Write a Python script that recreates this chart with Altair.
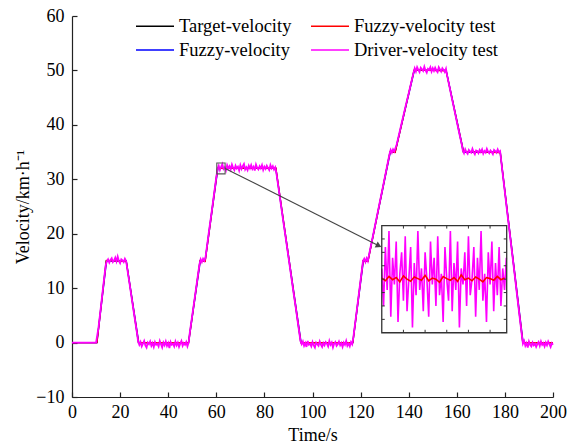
import math
import altair as alt
import pandas as pd

W, H = 481, 381
FONT = "Liberation Serif"
AXIS_COLOR = "#222222"

# ---------------- data ----------------
x_ticks = [0, 20, 40, 60, 80, 100, 120, 140, 160, 180, 200]
y_ticks = [-10, 0, 10, 20, 30, 40, 50, 60]
x_dom = [0, 200]
y_dom = [-10, 60]

target_t = [0, 10.3, 14.2, 22.5, 27.6, 48.4, 53.2, 55.3, 60.5, 84.7, 95.1, 116.7,
            121.0, 123.0, 132.2, 134.3, 142.2, 155.5, 162.7, 178.0, 187.4, 200]
target_v = [0, 0, 15, 15, 0, 0, 15, 15, 32, 32, 0, 0,
            15, 15, 35, 35, 50, 50, 35, 35, 0, 0]

fuzzy_t = [0, 10.4, 14.4, 22.6, 27.8, 48.5, 53.4, 55.4, 60.7, 84.8, 95.3, 116.8,
           121.2, 123.1, 132.4, 134.4, 142.4, 155.6, 162.9, 178.1, 187.6, 200]
fuzzy_v = [0, 0, 15, 15, 0, 0, 15, 15, 32, 32, 0, 0,
           15, 15, 35, 35, 50, 50, 35, 35, 0, 0]

test_t = [0, 10.4, 14.3, 22.6, 27.7, 48.5, 53.3, 55.4, 60.6, 84.8, 95.2, 116.8,
          121.1, 123.1, 132.3, 134.4, 142.3, 155.6, 162.8, 178.1, 187.5, 200]
test_v = [0, 0, 15.1, 14.9, 0, 0, 15.1, 14.9, 32.0, 32.1, 0, 0,
          15.1, 14.9, 35.1, 34.9, 50.1, 49.9, 35.1, 34.9, 0, 0]

# driver-velocity test: recorded in segments (start time, sample step, values)
driver_segments = [
    (0, 1, [0, 0, 0, 0, 0, 0, 0, 0, 0, 0, 0]),
    (11, 1, [2.7, 6.5, 10.4, 14.2]),
    (14.5, 0.5, [14.9, 15.3, 14.7, 15.2, 15.5, 14.8, 15.1, 15.6, 14.9, 15.8, 15.0, 14.6, 15.3, 15.1,
                 14.8, 15.4, 15.0]),
    (23, 1, [13.5, 10.6, 7.6, 4.7, 1.8]),
    (27.5, 0.5, [0.2, -0.4, 0.1, -0.7, -0.2, 0.3, -0.5, -0.9, 0.0, -0.3, 0.2, -0.6, -0.1, -0.8, 0.1,
                 -0.4, -0.2, -0.7, 0.3, -0.3, -0.9, 0.0, -0.5, 0.2, -0.6, -0.1, -1.0, 0.1, -0.4, -0.2,
                 -0.7, 0.2, -0.5, 0.0, -0.8, -0.2, 0.3, -0.6, -0.1, -0.4, 0.1, -0.7, 0.0]),
    (49, 1, [1.9, 5.0, 8.1, 11.3, 14.4]),
    (53.5, 0.5, [15.3, 14.8, 15.4, 15.0, 15.6]),
    (56, 1, [17.3, 20.6, 23.8, 27.1, 30.4]),
    (60.5, 0.5, [31.9, 32.5, 31.7, 32.3, 32.8, 31.9, 32.2, 31.6, 32.6, 32.0, 32.4, 31.8, 32.7, 32.1,
                 31.7, 32.5, 32.0, 32.3, 31.6, 32.6, 31.9, 32.4, 32.8, 31.8, 32.2, 31.7, 32.5, 32.0,
                 32.6, 31.9, 32.3, 31.6, 32.7, 32.1, 31.8, 32.4, 32.0, 32.6, 31.7, 32.3, 31.9, 32.5,
                 32.1, 31.7, 32.6, 32.0, 32.4, 31.8, 32.2]),
    (85, 1, [31.1, 28.0, 24.9, 21.8, 18.8, 15.7, 12.6, 9.5, 6.5, 3.4, 0.3]),
    (95.5, 0.5, [-0.3, 0.2, -0.6, -0.1, -0.8, 0.3, -0.4, -0.2, -0.7, 0.1, -0.5, -0.9, 0.0, -0.3, -0.6,
                 0.2, -0.4, -0.8, -0.1, -0.5, 0.1, -0.2, -0.7, 0.3, -0.4, 0.0, -0.9, -0.2, 0.1, -0.6,
                 -0.3, 0.2, -0.5, -0.1, -0.8, 0.0, -0.4, 0.3, -0.6, -0.2, -0.7, 0.1, -0.3]),
    (117, 1, [1.0, 4.5, 8.0, 11.5, 15.0]),
    (121.5, 0.5, [15.4, 14.8, 15.5, 15.0]),
    (124, 1, [17.2, 19.3, 21.5, 23.7, 25.9, 28.0, 30.2, 32.4, 34.6]),
    (132.5, 0.5, [35.4, 34.9, 35.5, 35.1]),
    (135, 1, [36.4, 38.3, 40.2, 42.1, 44.0, 45.8, 47.7, 49.6]),
    (142.5, 0.5, [50.4, 49.8, 50.6, 50.1, 49.7, 50.5, 50.2, 49.9, 50.7, 50.0, 49.6, 50.3, 50.1, 50.6,
                  49.8, 50.4, 49.9, 50.5, 50.0, 49.7, 50.6, 50.2, 49.8, 50.4, 50.1, 49.7, 50.3]),
    (156, 1, [49.0, 46.9, 44.8, 42.7, 40.6, 38.5, 36.5]),
    (162.5, 0.5, [35.3, 34.8, 35.5, 35.0, 34.7, 35.4, 35.1, 34.9, 35.6, 35.0, 34.6, 35.3, 35.2, 34.8,
                  35.4, 35.0, 35.5, 34.7, 35.2, 34.9, 35.6, 35.1, 34.8, 35.3, 35.0, 34.6, 35.4, 35.2,
                  34.9, 35.5, 35.0, 35.2]),
    (179, 1, [31.3, 27.6, 23.8, 20.1, 16.4, 12.7, 8.9, 5.2, 1.5]),
    (187.5, 0.5, [-0.2, 0.3, -0.6, -0.1, -0.9, 0.2, -0.4, -0.7, 0.0, -0.5, -0.2, -0.8, -0.3, 0.1, -0.6,
                  0.2, -0.4, -0.1, -0.7, 0.0, -0.5, 0.2, -0.3, -0.8, -0.1, -0.4]),
]
driver_t, driver_v = [], []
for t_start, step, vals in driver_segments:
    for i, val in enumerate(vals):
        driver_t.append(round(t_start + i * step, 2))
        driver_v.append(val)

# zoomed window (inset) data
zoom_t = (60.2, 63.66)
zoom_v = (31.0, 33.0)
inset_x_ticks = [60.8, 61.4, 62.0, 62.6, 63.2]
inset_y_ticks = [31.25, 31.5, 31.75, 32.0, 32.25, 32.5, 32.75]

inset_driver_t = [round(60.2 + 0.05 * i, 2) for i in range(70)]
inset_driver_v = [
    32.2, 31.5, 32.6, 31.8, 32.9, 31.3, 32.4, 31.9, 32.7, 31.2,
    32.1, 32.5, 31.6, 32.8, 31.4, 32.0, 32.6, 31.1, 32.3, 31.7,
    32.9, 31.8, 32.2, 31.4, 32.5, 32.0, 31.3, 32.7, 31.9, 32.4,
    31.5, 32.8, 31.7, 32.1, 31.2, 32.6, 32.0, 31.6, 32.9, 31.4,
    32.3, 31.8, 32.7, 31.1, 32.2, 31.9, 32.5, 31.5, 32.8, 31.7,
    32.0, 32.6, 31.3, 32.4, 31.8, 32.9, 31.6, 32.1, 31.2, 32.5,
    31.9, 32.7, 31.4, 32.3, 31.7, 32.6, 31.5, 32.2, 31.8, 32.4,
]
inset_test_t = [round(60.2 + 0.1 * i, 2) for i in range(35)]
inset_test_v = [
    32.02, 31.97, 32.05, 31.99, 32.03, 31.95, 32.06, 32.00, 31.96, 32.04,
    32.01, 31.98, 32.07, 31.97, 32.02, 32.00, 31.94, 32.05, 32.01, 31.98,
    32.03, 31.96, 32.08, 31.99, 32.02, 31.97, 32.04, 32.00, 31.95, 32.03,
    32.01, 31.98, 32.05, 31.99, 32.02,
]

# legend fills column by column: col 1 = first two, col 2 = last two
series_order = ["Target-velocity", "Fuzzy-velocity", "Fuzzy-velocity test", "Driver-velocity test"]
series_colors = ["#000000", "#0000ff", "#ff0000", "#ff00ff"]

# placement of the inset box, in main-axis units
inset_box_t = (128.8, 180.75)
inset_box_v = (1.8, 21.5)
arrow_end_v = 17.5

# ---------------- scales ----------------
xs = alt.Scale(domain=x_dom, nice=False, zero=False)
ys = alt.Scale(domain=y_dom, nice=False, zero=False)
color_scale = alt.Scale(domain=series_order, range=series_colors)

kx = (zoom_t[1] - zoom_t[0]) / (inset_box_t[1] - inset_box_t[0])
ky = (zoom_v[1] - zoom_v[0]) / (inset_box_v[1] - inset_box_v[0])
ix_dom = [zoom_t[0] - (inset_box_t[0] - x_dom[0]) * kx, zoom_t[0] + (x_dom[1] - inset_box_t[0]) * kx]
iy_dom = [zoom_v[0] - (inset_box_v[0] - y_dom[0]) * ky, zoom_v[0] + (y_dom[1] - inset_box_v[0]) * ky]
ixs = alt.Scale(domain=ix_dom, nice=False, zero=False)
iys = alt.Scale(domain=iy_dom, nice=False, zero=False)

legend = alt.Legend(
    title=None, orient="none", legendX=63, legendY=1, columns=2,
    symbolType="stroke", symbolSize=1444, symbolStrokeWidth=1.5,
    labelFont=FONT, labelFontSize=18.5, labelColor="#000", labelOffset=4,
    labelLimit=400, columnPadding=18, rowPadding=5, padding=0, clipHeight=18,
)

x_axis = alt.Axis(values=x_ticks, ticks=False, tickSize=0, domainColor=AXIS_COLOR, domainWidth=1.2,
                  labelFont=FONT, labelFontSize=18, labelColor="#000", labelPadding=6,
                  labelFlush=False, grid=False, title="Time/s", titleFont=FONT, titleFontSize=18,
                  titleFontWeight="normal", titleColor="#000", titlePadding=5, format="d")
y_axis = alt.Axis(values=y_ticks, ticks=False, tickSize=0, domainColor=AXIS_COLOR, domainWidth=1.2,
                  labelFont=FONT, labelFontSize=18, labelColor="#000", labelPadding=8,
                  labelFlush=False, grid=False, title="Velocity/km·h⁻¹", titleFont=FONT,
                  titleFontSize=18, titleFontWeight="normal", titleColor="#000", titlePadding=3,
                  format="d")
x_tick_axis = alt.Axis(orient="top", offset=-H, values=x_ticks, labels=False, domain=False,
                       ticks=True, tickSize=5, tickColor=AXIS_COLOR, tickWidth=1.2, grid=False)
y_tick_axis = alt.Axis(orient="right", offset=-W, values=y_ticks, labels=False, domain=False,
                       ticks=True, tickSize=5, tickColor=AXIS_COLOR, tickWidth=1.2, grid=False)


def series_df(t, v, name):
    return pd.DataFrame({"t": t, "v": v, "series": name})


def line_layer(df, width, x_axis_=None, y_axis_=None):
    xkw = {"axis": x_axis_} if x_axis_ is not None else {"axis": None}
    ykw = {"axis": y_axis_} if y_axis_ is not None else {"axis": None}
    return alt.Chart(df).mark_line(strokeWidth=width).encode(
        x=alt.X("t:Q", scale=xs, **xkw),
        y=alt.Y("v:Q", scale=ys, **ykw),
        color=alt.Color("series:N", scale=color_scale, legend=legend),
        order="t:Q",
    )


df_target = series_df(target_t, target_v, "Target-velocity")
df_fuzzy = series_df(fuzzy_t, fuzzy_v, "Fuzzy-velocity")
df_test = series_df(test_t, test_v, "Fuzzy-velocity test")
df_driver = series_df(driver_t, driver_v, "Driver-velocity test")

target_layer = line_layer(df_target, 1.2, x_axis, y_axis)
fuzzy_layer = line_layer(df_fuzzy, 1.2)
test_layer = line_layer(df_test, 1.2)
driver_layer = line_layer(df_driver, 1.8)

tick_layer = alt.Chart(df_target).mark_point(opacity=0).encode(
    x=alt.X("t:Q", scale=xs, axis=x_tick_axis, title=None),
    y=alt.Y("v:Q", scale=ys, axis=y_tick_axis, title=None),
)

zoom_df = pd.DataFrame({"t0": [zoom_t[0]], "t1": [zoom_t[1]], "v0": [zoom_v[0]], "v1": [zoom_v[1]]})
zoom_rect = alt.Chart(zoom_df).mark_rect(fillOpacity=0, stroke="#555555", strokeWidth=1.1).encode(
    x=alt.X("t0:Q", scale=xs, axis=None), x2="t1",
    y=alt.Y("v0:Q", scale=ys, axis=None), y2="v1",
)

# arrow from zoom window to inset box
sx = W / (x_dom[1] - x_dom[0])
sy = H / (y_dom[1] - y_dom[0])
a_t0, a_v0 = zoom_t[1], (zoom_v[0] + zoom_v[1]) / 2
a_t1, a_v1 = inset_box_t[0], arrow_end_v
dxp = (a_t1 - a_t0) * sx
dyp = (a_v0 - a_v1) * sy
ang = math.degrees(math.atan2(dyp, dxp))
head_size = 45
r = math.sqrt(head_size) / 2
head_t = a_t1 - r * math.cos(math.radians(ang)) / sx
head_v = a_v1 + r * math.sin(math.radians(ang)) / sy

arrow_df = pd.DataFrame({"t0": [a_t0], "v0": [a_v0], "t1": [head_t], "v1": [head_v]})
arrow = alt.Chart(arrow_df).mark_rule(color="#444444", strokeWidth=1.1).encode(
    x=alt.X("t0:Q", scale=xs, axis=None), x2="t1",
    y=alt.Y("v0:Q", scale=ys, axis=None), y2="v1",
)
head = alt.Chart(arrow_df).mark_point(shape="triangle-right", filled=True, size=head_size,
                                      angle=ang, color="#444444", opacity=1).encode(
    x=alt.X("t1:Q", scale=xs, axis=None),
    y=alt.Y("v1:Q", scale=ys, axis=None),
)

main = alt.layer(target_layer, fuzzy_layer, test_layer, driver_layer, tick_layer,
                 zoom_rect, arrow, head).resolve_axis(x="independent", y="independent")

# ---------------- inset ----------------
box_fill = alt.Chart(zoom_df).mark_rect(fill="white").encode(
    x=alt.X("t0:Q", scale=ixs, axis=None), x2="t1",
    y=alt.Y("v0:Q", scale=iys, axis=None), y2="v1",
)
box_line = alt.Chart(zoom_df).mark_rect(fillOpacity=0, stroke="#333333", strokeWidth=1.3).encode(
    x=alt.X("t0:Q", scale=ixs, axis=None), x2="t1",
    y=alt.Y("v0:Q", scale=iys, axis=None), y2="v1",
)
inset_driver = alt.Chart(pd.DataFrame({"t": inset_driver_t, "v": inset_driver_v})).mark_line(
    color="#ff00ff", strokeWidth=1.6).encode(
    x=alt.X("t:Q", scale=ixs, axis=None), y=alt.Y("v:Q", scale=iys, axis=None), order="t:Q")
inset_test = alt.Chart(pd.DataFrame({"t": inset_test_t, "v": inset_test_v})).mark_line(
    color="#ff0000", strokeWidth=1.6).encode(
    x=alt.X("t:Q", scale=ixs, axis=None), y=alt.Y("v:Q", scale=iys, axis=None), order="t:Q")

tick_px = 3
dt = tick_px / (W / (ix_dom[1] - ix_dom[0]))
dv = tick_px / (H / (iy_dom[1] - iy_dom[0]))
rows = []
for xt in inset_x_ticks:
    rows.append({"t0": xt, "t1": xt, "v0": zoom_v[1], "v1": zoom_v[1] - dv})
    rows.append({"t0": xt, "t1": xt, "v0": zoom_v[0], "v1": zoom_v[0] + dv})
for yt in inset_y_ticks:
    rows.append({"t0": zoom_t[0], "t1": zoom_t[0] + dt, "v0": yt, "v1": yt})
    rows.append({"t0": zoom_t[1] - dt, "t1": zoom_t[1], "v0": yt, "v1": yt})
inset_ticks = alt.Chart(pd.DataFrame(rows)).mark_rule(color="#333333", strokeWidth=1).encode(
    x=alt.X("t0:Q", scale=ixs, axis=None), x2="t1",
    y=alt.Y("v0:Q", scale=iys, axis=None), y2="v1",
)

inset = alt.layer(box_fill, inset_driver, inset_test, box_line, inset_ticks)

chart = alt.layer(main, inset).resolve_scale(x="independent", y="independent").properties(
    width=W, height=H,
    padding={"left": 72, "top": 16, "right": 16, "bottom": 50},
    autosize=alt.AutoSizeParams(type="none"),
).configure_view(stroke=None)

chart.save("out.html", embed_options={"renderer": "svg", "actions": False})
